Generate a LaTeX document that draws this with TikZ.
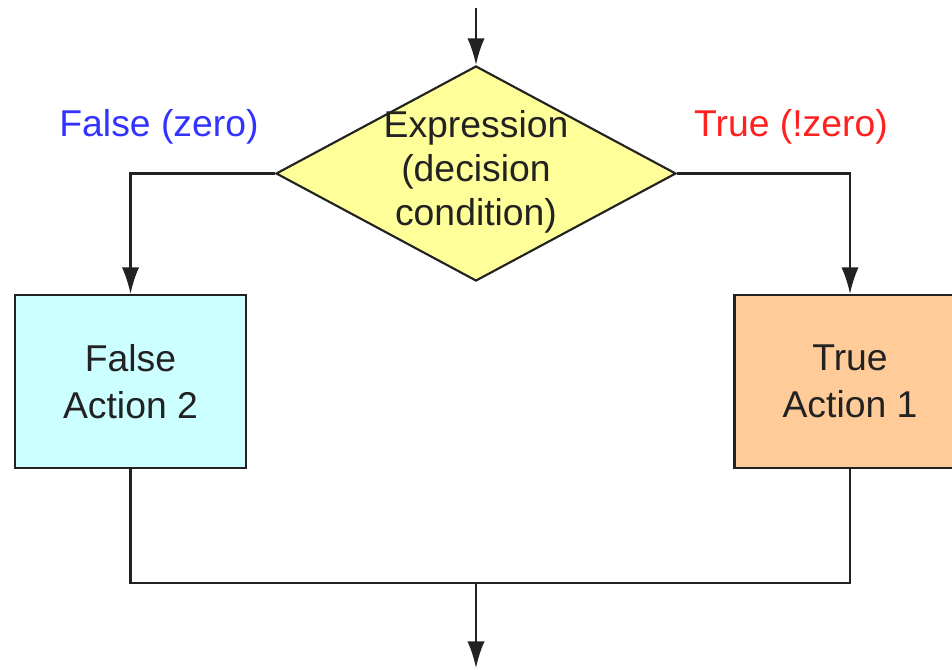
\documentclass[tikz,border=0pt]{standalone}
\usepackage{fontspec}
\setmainfont{Liberation Sans}
\usetikzlibrary{shapes.geometric,arrows.meta}
\definecolor{dyellow}{HTML}{FFFF99}
\definecolor{dcyan}{HTML}{CCFFFF}
\definecolor{dorange}{HTML}{FFCC99}
\definecolor{lblue}{HTML}{3333FF}
\definecolor{lred}{HTML}{FF2020}
\definecolor{ink}{HTML}{222222}
\tikzset{
  line/.style={draw=ink, line width=1.6pt},
  arr/.style={line, -{Latex[length=20pt,width=13pt]}},
  actbox/.style={draw=ink, line width=1.6pt, rectangle, minimum width=173.25pt, minimum height=129.75pt, inner sep=0pt, align=center, text=ink,
    font=\fontsize{28}{35}\selectfont},
  txt/.style={align=center, text=ink, font=\fontsize{28}{33}\selectfont},
  lbl/.style={font=\fontsize{28}{33}\selectfont}
}
\begin{document}
\begin{tikzpicture}[x=0.75pt,y=-0.75pt]
\useasboundingbox (0,0) rectangle (952,670);
\clip (0,0) rectangle (952,670);
\fill[white] (0,0) rectangle (952,670);
\coordinate (start) at (476,8);
\coordinate (join) at (476,583);
\coordinate (end) at (476,668);
\node[diamond, draw=ink, line width=1.6pt, fill=dyellow, minimum width=300pt, minimum height=161.25pt, aspect=1.86, inner sep=0pt] (dec) at (476,173.5) {};
\node[txt] (dectext) at (476,172) {Expression\\(decision\\condition)};
\node[actbox, fill=dcyan] (fa) at (130.5,381.5) {False\\Action 2};
\node[actbox, fill=dorange] (ta) at (850,381.5) {True\\Action 1};
\node[lbl, text=lblue] (flbl) at (159,127) {False (zero)};
\node[lbl, text=lred] (tlbl) at (791,127) {True (!zero)};
\draw[arr] (start) -- (dec.north);
\draw[arr] (dec.west) -| (fa.north);
\draw[arr] (dec.east) -| (ta.north);
\draw[line] (fa.south) |- (join) -| (ta.south);
\draw[arr] (join) -- (end);
\end{tikzpicture}
\end{document}
